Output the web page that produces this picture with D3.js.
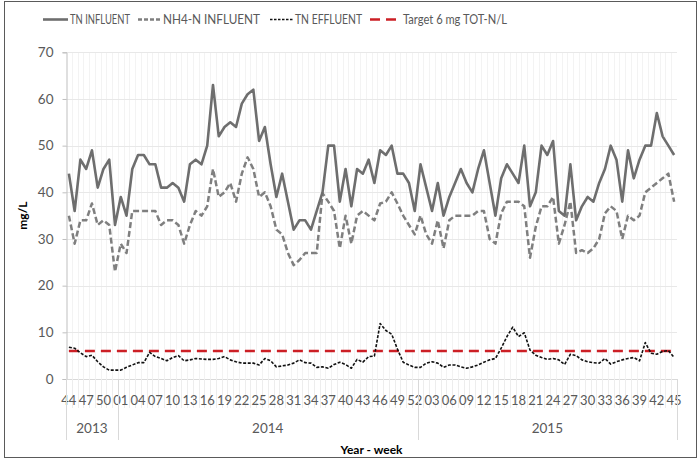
<!DOCTYPE html>
<meta charset="utf-8">
<style>

body {
  margin: 0;
  background: #fff;
}

text {
  font-family: Lato, "Open Sans", sans-serif;
  fill: #595959;
}

.title {
  font-weight: bold;
  fill: #000;
  font-size: 12px;
}

</style>
<body>
</body>
<script src="https://d3js.org/d3.v7.min.js"></script>
<script>

// year groups on the category axis
var years = ["2013", "2014", "2015"],
    yearWeeks = [d3.range(44, 53), d3.range(1, 53), d3.range(1, 46)];

var yTicks = [0, 10, 20, 30, 40, 50, 60, 70];

var tnInfluent = [44, 36, 47, 45, 49, 41, 45, 47, 33, 39, 35, 45, 48, 48, 46, 46, 41, 41, 42, 41,
  38, 46, 47, 46, 50, 63, 52, 54, 55, 54, 59, 61, 62, 51, 54, 46, 39, 44, 38, 32,
  34, 34, 32, 36, 40, 50, 50, 38, 45, 37, 45, 44, 47, 42, 49, 48, 50, 44, 44, 42,
  36, 46, 41, 36, 42, 35, 39, 42, 45, 42, 40, 45, 49, 42, 35, 43, 46, 44, 42, 50,
  37, 40, 50, 48, 51, 36, 35, 46, 34, 37, 39, 38, 42, 45, 50, 47, 38, 49, 43, 47,
  50, 50, 57, 52, 50, 48];

var nh4Influent = [35, 29, 34, 34, 37.6, 33, 34, 33, 23, 29, 27, 36, 36, 36, 36, 36, 33, 34, 34, 33,
  29, 33, 36, 35, 37, 45, 39, 40, 42, 38, 44, 47.5, 45, 39, 40, 37, 32, 31, 27, 24.4,
  25.5, 27, 27, 27, 39.8, 38, 36, 28, 35, 29, 35, 36, 35, 34, 37.6, 38, 40, 37.6, 35, 33,
  31, 35, 31, 29, 34, 28, 34, 35, 35, 35, 35, 36, 36, 30, 29, 35.5, 38, 38, 38, 37,
  26, 32.6, 37, 37, 39, 29, 33, 38, 27, 27.6, 27, 28, 30, 35.5, 37, 36, 30, 35, 34, 35,
  40, 41, 42, 43, 44, 38];

var tnEffluent = [6.8, 6.6, 5.6, 4.8, 5.1, 3.7, 2.6, 1.9, 1.9, 1.9, 2.5, 3, 3.5, 3.5, 5.7, 4.8, 4.4, 3.9, 4.6, 5,
  3.9, 4.1, 4.4, 4.3, 4.2, 4.2, 4.4, 4.8, 4.1, 3.7, 3.4, 3.4, 3.4, 3, 4.4, 3.9, 2.6, 2.8, 3, 3.4,
  4.1, 3.5, 3.4, 2.5, 2.6, 2.3, 3.1, 3.6, 3.1, 2.3, 4.2, 3.6, 4.8, 4.9, 11.9, 10.4, 9.6, 6.4, 3.6, 3,
  2.5, 2.5, 3.4, 3.7, 3.4, 2.5, 3, 3, 2.6, 2.3, 2.6, 3, 3.6, 4.1, 4.4, 6.6, 9.1, 11.1, 9.1, 9.9,
  6.2, 5.1, 4.6, 4.2, 4.4, 4.1, 3.1, 5.3, 5, 4.1, 3.7, 3.5, 3.4, 4.4, 3.2, 3.7, 4.1, 4.4, 4.6, 3.9,
  7.8, 5.5, 5.3, 5.9, 6.1, 4.6];

var target = 6;

var legendNames = ["TN INFLUENT", "NH4-N INFLUENT", "TN EFFLUENT", "Target 6 mg TOT-N/L"];

var w = 699,
    h = 459,
    pLeft = 66,
    pRight = 677,
    pTop = 52.3,
    pBottom = 379;

// flat category list: "year-week"
var cats = [];
years.forEach(function(yr, k) {
  yearWeeks[k].forEach(function(wk) {
    cats.push(yr + "-" + (wk < 10 ? "0" : "") + wk);
  });
});

var x = d3.scaleBand().domain(cats).range([pLeft, pRight]),
    y = d3.scaleLinear().domain([0, 70]).range([pBottom, pTop]);

function cx(d, i) { return x(cats[i]) + x.bandwidth() / 2; }

var svg = d3.select("body").append("svg")
    .attr("width", w)
    .attr("height", h);

svg.append("rect")
    .attr("x", 4.5).attr("y", 1.5)
    .attr("width", 692).attr("height", 456)
    .attr("fill", "none")
    .attr("stroke", "#5a5a5a");

// vertical grid, one per category boundary
svg.append("g").selectAll("line")
    .data(cats.slice(1))
  .enter().append("line")
    .attr("x1", function(d) { return Math.round(x(d)) + .5; })
    .attr("x2", function(d) { return Math.round(x(d)) + .5; })
    .attr("y1", pTop).attr("y2", pBottom)
    .attr("stroke", "#f3f3f3");

svg.append("g").selectAll("line")
    .data(yTicks.slice(1))
  .enter().append("line")
    .attr("x1", pLeft).attr("x2", pRight)
    .attr("y1", function(d) { return Math.round(y(d)) + .5; })
    .attr("y2", function(d) { return Math.round(y(d)) + .5; })
    .attr("stroke", "#e8e8e8");

// y axis
var yAxis = svg.append("g")
    .attr("transform", "translate(" + (pLeft + .5) + ",0)")
    .call(d3.axisLeft(y).tickValues(yTicks).tickSize(4).tickPadding(9));
yAxis.selectAll("path, line").attr("stroke", "#bfbfbf");
yAxis.selectAll("text").style("font-size", "13.5px").attr("fill", "#595959")
    .style("font-family", "Lato, sans-serif");

// x axis: category ticks go down through the labels
var xg = svg.append("g");
xg.append("line")
    .attr("x1", pLeft).attr("x2", pRight)
    .attr("y1", pBottom + .5).attr("y2", pBottom + .5)
    .attr("stroke", "#d9d9d9");

xg.selectAll(".ct")
    .data(cats)
  .enter().append("line")
    .attr("x1", function(d) { return Math.round(x(d)) + .5; })
    .attr("x2", function(d) { return Math.round(x(d)) + .5; })
    .attr("y1", pBottom).attr("y2", 408)
    .attr("stroke", "#ededed");

xg.selectAll(".wk")
    .data(cats.filter(function(d, i) { return i % 3 === 0; }))
  .enter().append("text")
    .attr("x", function(d) { return x(d) + x.bandwidth() / 2; })
    .attr("y", 400)
    .attr("text-anchor", "middle")
    .attr("dy", "0.35em")
    .style("font-size", "13px")
    .attr("fill", "#505050")
    .text(function(d) { return d.split("-")[1]; });

// year groups
var start = 0;
years.forEach(function(yr, k) {
  var first = cats[start],
      last = cats[start + yearWeeks[k].length - 1],
      x0 = x(first),
      x1 = x(last) + x.bandwidth();
  xg.append("text")
      .attr("x", (x0 + x1) / 2)
      .attr("y", 428)
      .attr("dy", "0.35em")
      .attr("text-anchor", "middle")
      .style("font-size", "13.5px")
      .text(yr);
  xg.append("line")
      .attr("x1", Math.round(x1) + .5).attr("x2", Math.round(x1) + .5)
      .attr("y1", pBottom).attr("y2", 440)
      .attr("stroke", "#d9d9d9");
  start += yearWeeks[k].length;
});
xg.append("line")
    .attr("x1", pLeft + .5).attr("x2", pLeft + .5)
    .attr("y1", pBottom).attr("y2", 440)
    .attr("stroke", "#d9d9d9");

svg.append("text")
    .attr("class", "title")
    .attr("x", (pLeft + pRight) / 2)
    .attr("y", 450)
    .attr("dy", "0.35em")
    .attr("text-anchor", "middle")
    .text("Year - week");

svg.append("text")
    .attr("class", "title")
    .attr("transform", "translate(23," + ((pTop + pBottom) / 2) + ") rotate(-90)")
    .attr("text-anchor", "middle")
    .attr("dy", "0.35em")
    .text("mg/L");

// series
var line = d3.line()
    .x(cx)
    .y(function(d) { return y(d); });

var series = [
  {name: legendNames[0], values: tnInfluent, color: "#6e6e6e", width: 2.6, dash: null},
  {name: legendNames[1], values: nh4Influent, color: "#7f7f7f", width: 2.5, dash: "6,3"},
  {name: legendNames[2], values: tnEffluent, color: "#111", width: 1.6, dash: "3,1.6"},
  {name: legendNames[3], values: cats.map(function() { return target; }), color: "#cc1f25", width: 2.5, dash: "10,6"}
];

svg.append("g").selectAll("path")
    .data([series[3], series[2], series[1], series[0]])
  .enter().append("path")
    .attr("d", function(s) { return line(s.values); })
    .attr("fill", "none")
    .attr("stroke", function(s) { return s.color; })
    .attr("stroke-width", function(s) { return s.width; })
    .attr("stroke-dasharray", function(s) { return s.dash; })
    .attr("stroke-linejoin", "round");

// legend (Calibri-like narrow widths squeezed into place)
var legendSym = [[43, 68], [138, 162], [270, 293], [370, 400]],
    legendText = [[70, 60], [163, 97], [295, 67], [403, 104]];

series.forEach(function(s, i) {
  svg.append("line")
      .attr("x1", legendSym[i][0]).attr("x2", legendSym[i][1])
      .attr("y1", 19.5).attr("y2", 19.5)
      .attr("stroke", s.color)
      .attr("stroke-width", s.width)
      .attr("stroke-dasharray", i === 2 ? "2.5,1.5" : (i === 1 ? "4,2" : s.dash));
  svg.append("text")
      .attr("x", legendText[i][0])
      .attr("y", 19.5)
      .attr("dy", "0.35em")
      .attr("textLength", legendText[i][1])
      .attr("lengthAdjust", "spacingAndGlyphs")
      .style("font-size", "12.5px")
      .attr("fill", "#404040")
      .text(s.name);
});

</script>
